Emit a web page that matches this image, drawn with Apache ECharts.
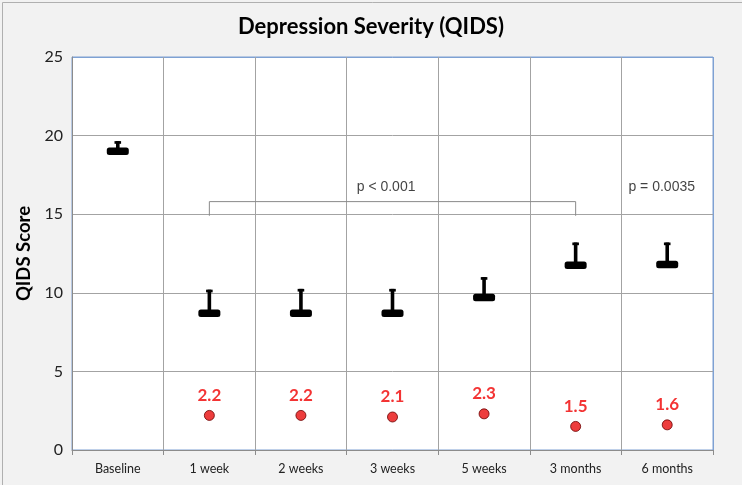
<!DOCTYPE html>
<html>
<head>
<meta charset="utf-8">
<script src="https://cdn.jsdelivr.net/npm/echarts@6/dist/echarts.min.js"></script>
<style>
html,body{margin:0;padding:0;background:#f2f2f2;}
#c{width:742px;height:485px;}
</style>
</head>
<body>
<div id="c"></div>
<script>
const categories = ['Baseline','1 week','2 weeks','3 weeks','5 weeks','3 months','6 months'];
const meanScore = [19.0, 8.7, 8.7, 8.7, 9.7, 11.75, 11.8];
const upperError = [19.65, 10.2, 10.25, 10.25, 11.0, 13.2, 13.2];
const effectSize = [null, 2.2, 2.2, 2.1, 2.3, 1.5, 1.6];
const yTicks = [0, 5, 10, 15, 20, 25];
const bracketX = [1, 5];
const bracketY = [14.9, 15.8];
const annotationText = ['p < 0.001', 'p = 0.0035'];
const annotationX = [2.93, 5.94];
const annotationY = [16.7, 16.75];

const chart = echarts.init(document.getElementById('c'), null, {renderer:'canvas'});

const gridGray = '#a3a3a3';
const borderBlue = '#7ea1d3';

const errData = categories.map((c,i)=>[i, meanScore[i], upperError[i]]);
const dotData = effectSize.map((v,i)=> v==null ? null : [i, v]).filter(d=>d);
const bracketData = [[bracketX[0], bracketY[0]],[bracketX[0], bracketY[1]],[bracketX[1], bracketY[1]],[bracketX[1], bracketY[0]]];
const annData = annotationText.map((t,i)=>({value:[annotationX[i], annotationY[i]], name:t}));

const option = {
  backgroundColor: '#f2f2f2',
  animation: false,
  title: {
    text: 'Depression Severity (QIDS)',
    left: 'center',
    top: 11,
    textStyle: {fontFamily: 'Lato', fontWeight: 'bold', fontSize: 22, color: '#000'}
  },
  graphic: [{
    type: 'rect', left: 0, top: 0,
    shape: {width: 741, height: 484},
    style: {fill: 'none', stroke: '#b0b0b0', lineWidth: 1},
    silent: true, z: 100
  }],
  grid: {
    left: 72, right: 29, top: 57, bottom: 35,
    show: true, backgroundColor: '#fff', borderColor: borderBlue, borderWidth: 1
  },
  xAxis: [{
    type: 'category',
    data: categories,
    boundaryGap: true,
    axisLine: {show: true, lineStyle: {color: '#8c8c8c', width: 1}},
    axisTick: {show: true, length: 5, lineStyle: {color: '#8c8c8c'}},
    axisLabel: {margin: 12, fontFamily: 'Lato', fontSize: 12.5, color: '#222'},
    splitLine: {show: true, lineStyle: {color: [gridGray,gridGray,gridGray,gridGray,gridGray,gridGray,gridGray,borderBlue], width: 1}}
  },{
    type: 'value', min: -0.5, max: 6.5, show: false,
    axisLine: {show: false}, splitLine: {show: false}
  }],
  yAxis: {
    type: 'value',
    min: yTicks[0], max: yTicks[yTicks.length-1], interval: 5,
    name: 'QIDS Score',
    nameLocation: 'middle',
    nameGap: 37,
    nameTextStyle: {fontFamily: 'Lato', fontWeight: 'bold', fontSize: 18.5, color: '#000'},
    axisLine: {show: true, onZero: false, lineStyle: {color: '#8c8c8c', width: 1}},
    axisTick: {show: false},
    axisLabel: {margin: 9, fontFamily: 'Lato', fontSize: 16, color: '#222'},
    splitLine: {show: true, lineStyle: {color: [gridGray,gridGray,gridGray,gridGray,gridGray,borderBlue], width: 1}}
  },
  series: [
    {
      type: 'line',
      xAxisIndex: 1,
      data: bracketData,
      symbol: 'none',
      lineStyle: {color: '#8a8a8a', width: 1},
      z: 3
    },
    {
      type: 'scatter',
      xAxisIndex: 1,
      data: annData,
      symbolSize: 0,
      label: {
        show: true, position: 'inside',
        formatter: p => p.name,
        fontFamily: 'Liberation Sans', fontSize: 14, color: '#111'
      },
      z: 4
    },
    {
      type: 'custom',
      data: errData,
      renderItem: function(params, api){
        const x = api.value(0), m = api.value(1), u = api.value(2);
        const pm = api.coord([x, m]);
        const pu = api.coord([x, u]);
        return {
          type: 'group',
          children: [
            {type:'rect', shape:{x: pm[0]-1.8, y: pu[1], width: 3.6, height: pm[1]-pu[1]}, style:{fill:'#000'}},
            {type:'rect', shape:{x: pm[0]-3.3, y: pu[1], width: 6.6, height: 2.7}, style:{fill:'#000'}},
            {type:'rect', shape:{x: pm[0]-11, y: pm[1]-3.7, width: 22, height: 7.4, r: 2.5}, style:{fill:'#000'}}
          ]
        };
      },
      z: 5
    },
    {
      type: 'scatter',
      data: dotData,
      symbol: 'circle',
      symbolSize: 10,
      itemStyle: {color: '#e80c0c', borderColor: '#6a0000', borderWidth: 1},
      label: {
        show: true, position: 'top', distance: 6,
        formatter: p => p.value[1].toFixed(1),
        fontFamily: 'Lato', fontWeight: 'bold', fontSize: 17, color: '#f00000'
      },
      z: 6
    }
  ]
};
chart.setOption(option);
</script>
</body>
</html>
